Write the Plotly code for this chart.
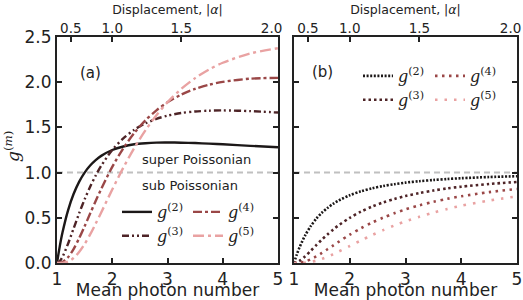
import plotly.graph_objects as go

# ---- data ----
mean_n = [1.0, 1.05, 1.1, 1.2, 1.3, 1.4, 1.5, 1.6, 1.7, 1.8, 2.0, 2.2, 2.4, 2.6, 2.8,
          3.0, 3.25, 3.5, 3.75, 4.0, 4.5, 5.0]
a_g2 = [0, 0.184, 0.339, 0.583, 0.763, 0.898, 1.000, 1.078, 1.138, 1.185, 1.250, 1.289,
        1.313, 1.325, 1.332, 1.333, 1.331, 1.327, 1.320, 1.313, 1.296, 1.280]
a_g3 = [0, 0.020, 0.068, 0.213, 0.381, 0.548, 0.704, 0.844, 0.967, 1.075, 1.250, 1.379,
        1.475, 1.544, 1.594, 1.630, 1.659, 1.676, 1.685, 1.688, 1.680, 1.664]
a_g4 = [0, 0.002, 0.011, 0.063, 0.154, 0.273, 0.407, 0.547, 0.686, 0.819, 1.063, 1.269,
        1.439, 1.578, 1.689, 1.778, 1.863, 1.926, 1.972, 2.004, 2.039, 2.048]
a_g5 = [0, 0.000, 0.002, 0.016, 0.055, 0.121, 0.210, 0.316, 0.435, 0.559, 0.813, 1.054,
        1.274, 1.467, 1.635, 1.778, 1.926, 2.045, 2.140, 2.215, 2.318, 2.376]
b_g2 = [0, 0.093, 0.174, 0.306, 0.408, 0.490, 0.556, 0.609, 0.654, 0.691, 0.750, 0.793,
        0.826, 0.852, 0.872, 0.889, 0.905, 0.918, 0.929, 0.938, 0.951, 0.960]
b_g3 = [0, 0.007, 0.023, 0.074, 0.135, 0.198, 0.259, 0.316, 0.369, 0.417, 0.500, 0.568,
        0.624, 0.670, 0.708, 0.741, 0.774, 0.802, 0.825, 0.844, 0.874, 0.896]
b_g4 = [0, 0.000, 0.003, 0.016, 0.041, 0.073, 0.111, 0.152, 0.193, 0.234, 0.313, 0.384,
        0.447, 0.502, 0.550, 0.593, 0.638, 0.677, 0.710, 0.738, 0.784, 0.819]
b_g5 = [0, 0.000, 0.000, 0.003, 0.012, 0.026, 0.045, 0.069, 0.096, 0.126, 0.188, 0.249,
        0.309, 0.364, 0.415, 0.461, 0.512, 0.558, 0.598, 0.633, 0.691, 0.737]

x_ticks = [1, 2, 3, 4, 5]
y_ticks = [0.0, 0.5, 1.0, 1.5, 2.0, 2.5]
alpha_ticks = [0.5, 1.0, 1.5, 2.0]
labels = ["<i>g</i><sup>(2)</sup>", "<i>g</i><sup>(3)</sup>",
          "<i>g</i><sup>(4)</sup>", "<i>g</i><sup>(5)</sup>"]

colors = ["#1c1818", "#4e2427", "#9a4747", "#e9a2a2"]
dash_a = ["solid", "7px,3px,2px,3px,2px,3px", "9px,3px,3px,3px", "11px,4px,3px,4px"]
dash_b = ["2px,1.6px", "2.5px,3px", "2.5px,4.5px", "2.5px,7px"]

FONT = "DejaVu Sans"
AX = "#222222"

# pixel geometry of plot area
L, R, T, B = 57, 517, 37, 263
W, H = R - L, B - T


def px(xp):
    return (xp - L) / W


def py(yp):
    return (B - yp) / H


fig = go.Figure()

a_data = [a_g2, a_g3, a_g4, a_g5]
b_data = [b_g2, b_g3, b_g4, b_g5]
leg_a = ["legend", "legend", "legend2", "legend2"]
leg_b = ["legend3", "legend3", "legend4", "legend4"]

for i in range(4):
    fig.add_trace(go.Scatter(x=mean_n, y=a_data[i], mode="lines", name=labels[i],
                             line=dict(color=colors[i], width=2.4, dash=dash_a[i],
                                       shape="spline", smoothing=0.8),
                             xaxis="x", yaxis="y", legend=leg_a[i]))
for i in range(4):
    fig.add_trace(go.Scatter(x=mean_n, y=b_data[i], mode="lines", name=labels[i],
                             line=dict(color=colors[i], width=2.6, dash=dash_b[i],
                                       shape="spline", smoothing=0.8),
                             xaxis="x2", yaxis="y2", legend=leg_b[i]))

# Poisson reference lines
for xa, ya in (("x", "y"), ("x2", "y2")):
    fig.add_shape(type="line", xref=xa, yref=ya, x0=1, x1=5, y0=1, y1=1,
                  line=dict(color="#c0c0c0", width=2, dash="6px,4px"), layer="below")

alpha_pos = [1 + a * a for a in alpha_ticks]
alpha_txt = ["%.1f" % a for a in alpha_ticks]
# the last label sits slightly inside the frame in the reference
alpha_txt[-1] = alpha_txt[-1] + "&nbsp;&nbsp;&nbsp;"

dom_a = [0, px(278)]
dom_b = [px(294), 1]

common_x = dict(range=[1, 5], showline=True, linewidth=2, linecolor=AX, mirror=True,
                ticks="inside", ticklen=5, tickwidth=2, tickcolor=AX,
                tickvals=x_ticks, showgrid=False, zeroline=False, automargin=False,
                tickfont=dict(family=FONT, size=17, color=AX),
                title=dict(text="Mean photon number", standoff=0,
                           font=dict(family=FONT, size=17, color=AX)))
common_y = dict(range=[0, 2.5], showline=True, linewidth=2, linecolor=AX, mirror="ticks",
                ticks="inside", ticklen=5, tickwidth=2, tickcolor=AX, automargin=False,
                tickvals=y_ticks, showgrid=False, zeroline=False)
top_x = dict(range=[1, 5], side="top", ticks="inside", ticklen=5, tickwidth=2,
             tickcolor=AX, tickvals=alpha_pos, ticktext=alpha_txt, showgrid=False,
             zeroline=False, showline=False, automargin=False,
             ticklabeloverflow="allow",
             tickfont=dict(family=FONT, size=13.5, color=AX),
             title=dict(text="Displacement, |<i>α</i>|", standoff=2,
                        font=dict(family=FONT, size=12.5, color=AX)))

fig.update_layout(
    width=523, height=300,
    margin=dict(l=L, r=523 - R, t=T, b=300 - B, pad=0),
    paper_bgcolor="white", plot_bgcolor="white",
    xaxis=dict(domain=dom_a, anchor="y", **common_x),
    yaxis=dict(domain=[0, 1], anchor="x", tickformat=".1f",
               tickfont=dict(family=FONT, size=17, color=AX), **common_y),
    xaxis2=dict(domain=dom_b, anchor="y2", **common_x),
    yaxis2=dict(domain=[0, 1], anchor="x2", showticklabels=False, **common_y),
    xaxis3=dict(overlaying="x", anchor="y", **top_x),
    xaxis4=dict(overlaying="x2", anchor="y2", **top_x),
    showlegend=True,
)

leg_common = dict(orientation="v", bgcolor="rgba(0,0,0,0)", borderwidth=0,
                  font=dict(family="DejaVu Serif", size=16, color=AX),
                  tracegroupgap=0, itemwidth=30, xanchor="left", yanchor="top",
                  traceorder="normal")
fig.update_layout(
    legend=dict(x=px(117), y=py(195), **leg_common),
    legend2=dict(x=px(188), y=py(195), **leg_common),
    legend3=dict(x=px(358), y=py(59), **leg_common),
    legend4=dict(x=px(430), y=py(59), **leg_common),
)

# dummy traces to activate top axes
fig.add_trace(go.Scatter(x=[1, 5], y=[None, None], xaxis="x3", yaxis="y",
                         showlegend=False, hoverinfo="skip"))
fig.add_trace(go.Scatter(x=[1, 5], y=[None, None], xaxis="x4", yaxis="y2",
                         showlegend=False, hoverinfo="skip"))

# y-axis title
fig.add_annotation(text="<i>g</i><sup>(<i>m</i>)</sup>", textangle=-90,
                   x=px(12), y=py(147), xref="paper", yref="paper",
                   showarrow=False, xanchor="center", yanchor="middle",
                   font=dict(family="DejaVu Serif", size=17, color=AX))

fig.add_annotation(text="(a)", x=1.38, y=2.1, xref="x", yref="y",
                   showarrow=False, xanchor="left", yanchor="middle",
                   font=dict(family=FONT, size=15, color=AX))
fig.add_annotation(text="(b)", x=1.29, y=2.11, xref="x2", yref="y2",
                   showarrow=False, xanchor="left", yanchor="middle",
                   font=dict(family=FONT, size=15, color=AX))
fig.add_annotation(text="super Poissonian", x=2.5, y=1.14, xref="x", yref="y",
                   showarrow=False, xanchor="left", yanchor="middle",
                   font=dict(family=FONT, size=13, color=AX))
fig.add_annotation(text="sub Poissonian", x=2.5, y=0.86, xref="x", yref="y",
                   showarrow=False, xanchor="left", yanchor="middle",
                   font=dict(family=FONT, size=13, color=AX))

# remove the default page margin so the figure sits at the window's top-left corner
fig.write_html("out.html", config={"displayModeBar": False},
               post_script="document.body.style.margin='0';document.body.style.overflow='hidden';")
